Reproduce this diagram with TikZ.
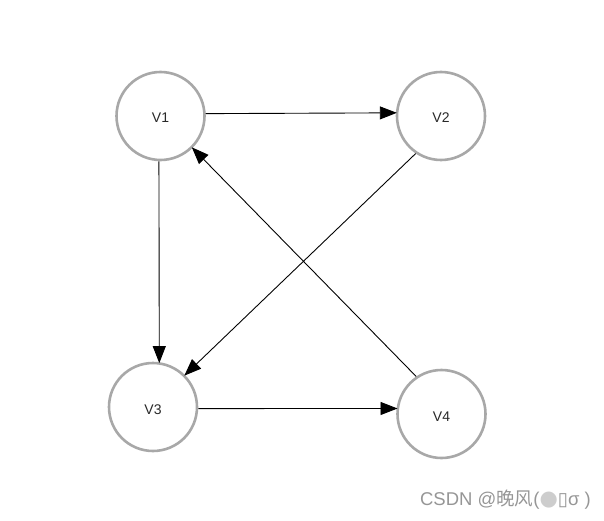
\documentclass[tikz,border=0pt]{standalone}
\usepackage{fontspec}
\setmainfont{Liberation Sans}
\newfontfamily\cjk{Noto Sans CJK SC}
\newfontfamily\symf{DejaVu Sans}
\usetikzlibrary{arrows.meta}
\definecolor{ringgray}{RGB}{168,168,168}
\definecolor{labelgray}{RGB}{40,40,40}
\definecolor{markgray}{RGB}{150,150,150}
\definecolor{dotgray}{RGB}{205,205,205}
\begin{document}
\begin{tikzpicture}[x=1pt,y=-1pt,
  vertex/.style={circle,draw=ringgray,line width=2.6pt,minimum size=88pt,inner sep=0pt,
    font=\fontsize{14}{16}\selectfont,text=labelgray,fill=white,text height=14pt,text depth=0pt},
  arr/.style={draw=black,line width=0.9pt,-{Triangle[length=17pt,width=13pt]},shorten >=-1pt}
]
\useasboundingbox (0,0) rectangle (604,521);
\node[vertex] (V1) at (160.5,116) {V1};
\node[vertex] (V2) at (441,116) {V2};
\node[vertex] (V3) at (153,407) {V3};
\node[vertex] (V4) at (441.5,414) {V4};
\draw[arr] (V1.3.8) -- (V2.176.2);
\draw[arr] (V1.268) -- (V3.82.7);
\draw[arr] (V2.236.3) -- (V3.45);
\draw[arr] (V4.124.2) -- (V1.315);
\draw[arr] (V3.-2.5) -- (V4.173.7);
\node[anchor=east,text=markgray,font=\fontsize{18.5}{21}\selectfont,inner sep=0pt] (wm) at (591,500)
  {CSDN @{\cjk 晚风}({\symf\textcolor{dotgray}{\fontsize{21}{21}\selectfont●}▯}σ )};
\end{tikzpicture}
\end{document}
